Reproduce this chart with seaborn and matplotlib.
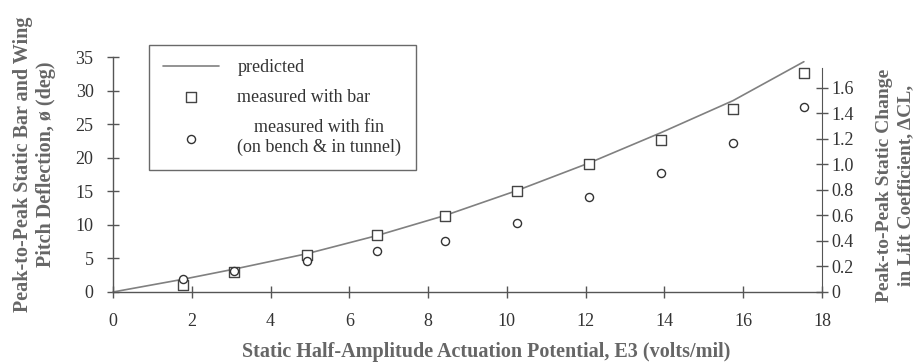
import matplotlib
matplotlib.use("Agg")
import matplotlib.pyplot as plt
import seaborn as sns

# predicted curve, E3 (volts/mil) vs pitch deflection (deg)
e3_pred = [0, 1.78, 3.07, 4.92, 6.70, 8.43, 10.25, 12.08, 13.90, 15.74, 17.54]
phi_pred = [0, 1.9, 3.4, 5.7, 8.4, 11.4, 15.1, 19.2, 23.7, 28.5, 34.3]

# measured with bar
e3_bar = [1.78, 3.07, 4.92, 6.70, 8.43, 10.25, 12.08, 13.90, 15.74, 17.54]
phi_bar = [1.0, 3.0, 5.5, 8.5, 11.3, 15.0, 19.1, 22.6, 27.3, 32.6]

# measured with fin (on bench & in tunnel)
e3_fin = [1.78, 3.07, 4.92, 6.70, 8.43, 10.25, 12.08, 13.90, 15.74, 17.54]
phi_fin = [1.9, 3.2, 4.6, 6.1, 7.6, 10.3, 14.2, 17.7, 22.2, 27.6]

x_ticks = [0, 2, 4, 6, 8, 10, 12, 14, 16, 18]
y_ticks = [0, 5, 10, 15, 20, 25, 30, 35]
cl_ticks = [0, 0.2, 0.4, 0.6, 0.8, 1.0, 1.2, 1.4, 1.6]
cl_labels = ["0", "0.2", "0.4", "0.6", "0.8", "1.0", "1.2", "1.4", "1.6"]

sns.set_style("ticks")
plt.rcParams["font.family"] = ["Liberation Serif", "DejaVu Serif"]

W, H = 916, 364
fig = plt.figure(figsize=(W / 100, H / 100), dpi=100)
ax = fig.add_axes([113 / W, 72 / H, 709 / W, 235 / H])

axis_col = "#555555"
text_col = "#333333"
label_col = "#666666"

sns.lineplot(x=e3_pred, y=phi_pred, ax=ax, color="#808080", lw=1.2,
             label="predicted")
sns.scatterplot(x=e3_bar, y=phi_bar, ax=ax, marker="s", s=42,
                facecolor="white", edgecolor="#444444", linewidth=1.0,
                label="measured with bar", zorder=3)
sns.scatterplot(x=e3_fin, y=phi_fin, ax=ax, marker="o", s=34,
                facecolor="white", edgecolor="#333333", linewidth=1.0,
                label="measured with fin\n(on bench & in tunnel)", zorder=3)

ax.set_xlim(0, 18)
ax.set_ylim(0, 35)
ax.set_xticks(x_ticks)
ax.set_yticks(y_ticks)
ax.set_xlabel("")
ax.set_ylabel("")
for c in ax.collections + ax.lines:
    c.set_clip_on(False)

ax.spines["top"].set_visible(False)
ax.spines["right"].set_visible(False)
for s in ["left", "bottom"]:
    ax.spines[s].set_color(axis_col)
    ax.spines[s].set_linewidth(1.0)
ax.tick_params(direction="inout", length=8, width=1, color=axis_col,
               labelsize=13, labelcolor=text_col)
ax.tick_params(axis="x", pad=11)
ax.tick_params(axis="y", pad=10)

# right-hand lift coefficient axis
ax2 = ax.twinx()
ax2.set_ylim(0, 35 / 18.99)
ax2.set_yticks(cl_ticks)
ax2.set_yticklabels(cl_labels)
for s in ["top", "left", "bottom"]:
    ax2.spines[s].set_visible(False)
ax2.spines["right"].set_bounds(0, 1.76)
ax2.spines["right"].set_color(axis_col)
ax2.tick_params(direction="inout", length=8, width=1, color=axis_col,
                labelsize=13, labelcolor=text_col, pad=3)

leg = ax.legend(loc="upper left", bbox_to_anchor=(149 / W, 1 - 45 / H),
                bbox_transform=fig.transFigure, frameon=True, fancybox=False,
                edgecolor="#444444", fontsize=13, handlelength=3.1,
                handletextpad=1.0, labelspacing=0.7, borderpad=0.8,
                borderaxespad=0)
leg.get_frame().set_linewidth(1.0)
for t in leg.get_texts():
    t.set_color(text_col)
leg.get_texts()[2].set_multialignment("center")

fig.text(486 / W, 1 - 352 / H,
         "Static Half-Amplitude Actuation Potential, E3 (volts/mil)",
         ha="center", va="center", fontsize=14.5, fontweight="bold",
         color=label_col)
fig.text(35 / W, 1 - 164 / H,
         "Peak-to-Peak Static Bar and Wing\nPitch Deflection, \u00f8 (deg)",
         ha="center", va="center", rotation=90, fontsize=14.5,
         fontweight="bold", color=label_col, multialignment="center",
         linespacing=1.2)
fig.text(895 / W, 1 - 185 / H,
         "Peak-to-Peak Static Change\nin Lift Coefficient, \u0394CL,",
         ha="center", va="center", rotation=90, fontsize=14,
         fontweight="bold", color=label_col, multialignment="center",
         linespacing=1.3)

fig.savefig("out.png", dpi=100)
